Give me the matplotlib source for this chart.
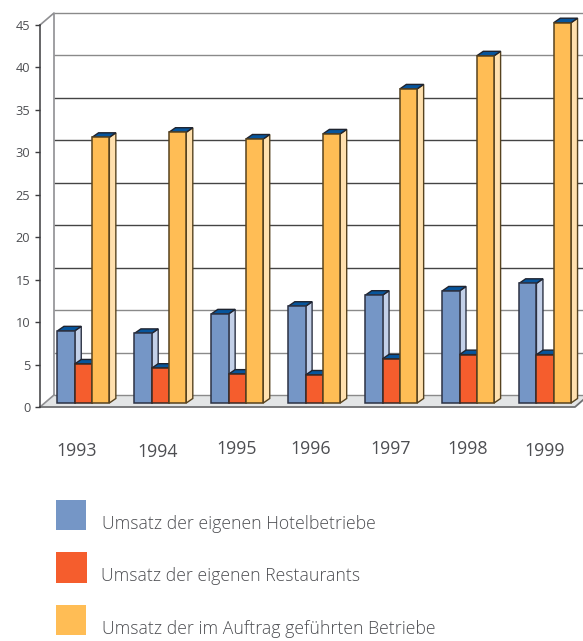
import matplotlib
matplotlib.use("Agg")
import matplotlib.pyplot as plt
from matplotlib.patches import Polygon, Rectangle
from matplotlib.transforms import Affine2D

years = ["1993", "1994", "1995", "1996", "1997", "1998", "1999"]
hotel = [8.5, 8.2, 10.5, 11.4, 12.7, 13.2, 14.1]
restaurants = [4.6, 4.1, 3.4, 3.3, 5.2, 5.7, 5.7]
managed = [31.3, 31.9, 31.1, 31.7, 37.0, 40.9, 44.8]
legend_labels = ["Umsatz der eigenen Hotelbetriebe",
                 "Umsatz der eigenen Restaurants",
                 "Umsatz der im Auftrag geführten Betriebe"]
yticks = list(range(0, 50, 5))

W, H = 583, 641
plt.rcParams["font.family"] = ["Open Sans", "DejaVu Sans"]
TXT = "#4d4e52"
fig = plt.figure(figsize=(W / 100, H / 100), dpi=100)
ax = fig.add_axes([40 / W, 1 - 407 / H, 543 / W, 382 / H])
ax.patch.set_alpha(0)
px_x, px_y = 76.95, 382 / 45
ax.set_xlim((40 - 83.4) / px_x, (583 - 83.4) / px_x)
ax.set_ylim(0, 45)

def shift(dx, dy):
    return ax.transData + Affine2D().translate(dx, dy)

# floor and walls
bw_dx, bw_dy = 14, 12
xl, xr = ax.get_xlim()
xe = xr - 8 / px_x
ax.add_patch(Polygon([(xl, 0), (xl + bw_dx / px_x, bw_dy / px_y), (xr, bw_dy / px_y),
                      (xr, 7 / px_y), (xe, 0)],
                     closed=True, fc="#e3e5e6", ec="none", zorder=1, clip_on=False))
ax.plot([xl, xe, xr], [0, 0, 7 / px_y], color="#6f7072", lw=1.3, zorder=1.5, clip_on=False)

grid_cols = ["#8a8a8a", "#8a8a8a", "#8a8a8a", "#444444", "#444444",
             "#444444", "#444444", "#444444", "#8a8a8a", "#8a8a8a"]
for v, c in zip(yticks, grid_cols):
    ax.hlines(v, xl + bw_dx / px_x, xr, colors=c, lw=1.0, zorder=1.2,
              transform=ax.transData + Affine2D().translate(0, bw_dy), clip_on=False)
ax.plot([xl, xl + bw_dx / px_x, xl + bw_dx / px_x],
        [45, 45 + bw_dy / px_y, bw_dy / px_y], color="#8f8f92", lw=1.2, zorder=1.3, clip_on=False)
ax.plot([xl, xl + bw_dx / px_x], [0, bw_dy / px_y], color="#8f8f92", lw=1.2, zorder=1.3, clip_on=False)

# bars
bw = 17.3 / px_x
ddx, ddy = 6.5 / px_x, 4.5 / px_y
base = 4
series = [
    (hotel, -bw, "#7596c6", "#c3d0e8", "#2c3244"),
    (restaurants, 0, "#f55d2d", "#f7a98c", "#3a2a24"),
    (managed, bw, "#ffbd55", "#ffe0ae", "#57431f"),
]
z = 3
tr = shift(0, base)
for i in range(len(years)):
    for vals, off, front, side, edge in series:
        x0 = i + off - bw / 2
        x1 = x0 + bw
        v = vals[i]
        ax.add_patch(Polygon([(x1, 0), (x1 + ddx, ddy), (x1 + ddx, v + ddy), (x1, v)], closed=True,
                             fc=side, ec=edge, lw=1.0, zorder=z, transform=tr, clip_on=False))
        ax.add_patch(Polygon([(x0, v), (x1, v), (x1 + ddx, v + ddy), (x0 + ddx, v + ddy)], closed=True,
                             fc="#07559c", ec="#1f2430", lw=1.0, zorder=z, transform=tr, clip_on=False))
        ax.bar(i + off, v, width=bw, color=front, edgecolor=edge, linewidth=1.1, zorder=z + 0.1,
               transform=tr, clip_on=False)
        z += 0.2

# axes
for s in ["top", "right", "bottom"]:
    ax.spines[s].set_visible(False)
ax.spines["left"].set_color("#3c3c3e")
ax.spines["left"].set_linewidth(1.1)
ax.set_yticks(yticks)
ax.tick_params(axis="y", length=3.6, width=1.0, color="#3c3c3e", labelcolor=TXT, labelsize=9.2, pad=3.5)
ax.set_xticks(range(len(years)))
ax.set_xticklabels(years)
ax.tick_params(axis="x", length=0, labelcolor=TXT, labelsize=12.8, pad=25)
wobble = [(-7, 0), (-3, -1), (-1, 2), (-4, 2), (-1, 2), (-1, 2), (0, 0)]
for lab, (dx, dy) in zip(ax.get_xticklabels(), wobble):
    lab.set_transform(lab.get_transform() + Affine2D().translate(dx, dy))

# legend
page = Affine2D().scale(1, -1).translate(0, H)
swatches = [(56, 500, 30, 30), (56, 552, 31, 31), (56, 605, 30, 30)]
label_pos = [(102, 524), (101, 576), (102, 629)]
for (x, y, w, h), (tx, ty), s, lab in zip(swatches, label_pos, series, legend_labels):
    fig.add_artist(Rectangle((x, y), w, h, fc=s[2], ec="none", transform=page))
    fig.text(tx, ty, lab, transform=page, color=TXT, fontsize=12.7, va="center", ha="left",
             fontweight="light")

fig.savefig("out.png", dpi=100)
